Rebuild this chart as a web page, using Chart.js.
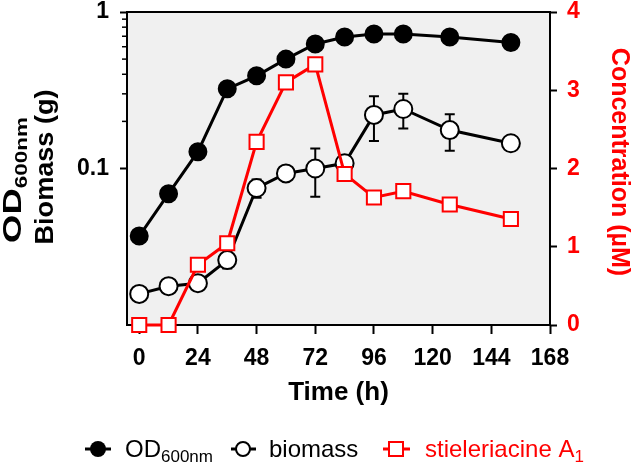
<!DOCTYPE html>
<html lang="en">
<head>
<meta charset="UTF-8">
<title>Crescimento e stieleriacine</title>
<script src="https://cdn.jsdelivr.net/npm/chart.js@4.4.1/dist/chart.umd.min.js"></script>
<style>
  html, body { margin: 0; padding: 0; background: #fff; }
  #wrap { width: 633px; height: 466px; }
</style>
</head>
<body>
<div id="wrap"><canvas id="grafico" width="633" height="466"></canvas></div>
<script>
// dados
const tempo = [0, 12, 24, 36, 48, 60, 72, 84, 96, 108, 127, 152];
const od600 = [0.037, 0.069, 0.128, 0.323, 0.391, 0.50, 0.625, 0.693, 0.724, 0.724, 0.693, 0.638];
const biomassa = [0.0158, 0.0177, 0.0185, 0.026, 0.075, 0.093, 0.100, 0.108, 0.22, 0.24, 0.176, 0.145];
const biomassaDP = [0, 0, 0, 0.003, 0.01, 0, 0.034, 0, 0.07, 0.06, 0.046, 0];
const stieleriacine = [0, 0, 0.77, 1.045, 2.34, 3.10, 3.33, 1.93, 1.63, 1.71, 1.54, 1.355];

const ticksX = [0, 24, 48, 72, 96, 120, 144, 168];
const ticksLog = [0.1, 1];
const ticksLogMenores = [0.2, 0.3, 0.4, 0.5, 0.6, 0.7, 0.8, 0.9];
const ticksConc = [0, 1, 2, 3, 4];

const fonte = "'Liberation Sans', Arial, sans-serif";
const vermelho = '#ff0000';

function pontos(ys) {
    return tempo.map((t, i) => ({ x: t, y: ys[i] }));
}

// texto com subscrito, a partir de x (alinhado à esquerda)
function textoSub(ctx, x, y, base, sub, tam, tamSub, peso, desce) {
    ctx.font = `${peso} ${tam}px ${fonte}`;
    ctx.fillText(base, x, y);
    const w = ctx.measureText(base).width;
    ctx.font = `${peso} ${tamSub}px ${fonte}`;
    ctx.fillText(sub, x + w, y + desce);
    return w + ctx.measureText(sub).width;
}

function larguraSub(ctx, base, sub, tam, tamSub, peso) {
    ctx.font = `${peso} ${tam}px ${fonte}`;
    const w = ctx.measureText(base).width;
    ctx.font = `${peso} ${tamSub}px ${fonte}`;
    return w + ctx.measureText(sub).width;
}

const extras = {
    id: 'extras',
    beforeDraw(chart) {
        const { ctx, chartArea: a } = chart;
        ctx.save();
        ctx.fillStyle = '#f0f0f0';
        ctx.fillRect(a.left, a.top, a.right - a.left, a.bottom - a.top);
        ctx.restore();
    },
    beforeDatasetsDraw(chart) {
        const { ctx, scales } = chart;
        ctx.save();
        ctx.strokeStyle = '#000';
        ctx.lineWidth = 2;
        tempo.forEach((t, i) => {
            const dp = biomassaDP[i];
            if (!dp) return;
            const x = scales.x.getPixelForValue(t);
            const y1 = scales.y.getPixelForValue(biomassa[i] + dp);
            const y2 = scales.y.getPixelForValue(biomassa[i] - dp);
            ctx.beginPath();
            ctx.moveTo(x, y1); ctx.lineTo(x, y2);
            ctx.moveTo(x - 5, y1); ctx.lineTo(x + 5, y1);
            ctx.moveTo(x - 5, y2); ctx.lineTo(x + 5, y2);
            ctx.stroke();
        });
        ctx.restore();
    },
    afterDraw(chart) {
        const { ctx, chartArea: a, scales } = chart;
        ctx.save();

        // borda de cima
        ctx.strokeStyle = '#000';
        ctx.lineWidth = 2;
        ctx.beginPath();
        ctx.moveTo(a.left - 1, a.top);
        ctx.lineTo(a.right + 1, a.top);
        ctx.stroke();

        // ticks menores do eixo log
        ctx.lineWidth = 1.5;
        ticksLogMenores.forEach(v => {
            const y = scales.y.getPixelForValue(v);
            ctx.beginPath();
            ctx.moveTo(a.left - 5, y);
            ctx.lineTo(a.left, y);
            ctx.stroke();
        });

        // título do eixo x
        ctx.fillStyle = '#000';
        ctx.font = `bold 26px ${fonte}`;
        ctx.textAlign = 'center';
        ctx.textBaseline = 'middle';
        ctx.fillText('Time (h)', (a.left + a.right) / 2, 393);

        // título do eixo esquerdo (duas linhas giradas)
        ctx.textAlign = 'left';
        ctx.textBaseline = 'alphabetic';
        ctx.save();
        ctx.translate(21, 180);
        ctx.rotate(-Math.PI / 2);
        let w = larguraSub(ctx, 'OD', '600nm', 26, 16, 'bold');
        ctx.scale(126 / w, 1);
        textoSub(ctx, -w / 2, 0, 'OD', '600nm', 26, 16, 'bold', 6);
        ctx.restore();

        ctx.save();
        ctx.translate(53, 167);
        ctx.rotate(-Math.PI / 2);
        ctx.font = `bold 25px ${fonte}`;
        w = ctx.measureText('Biomass (g)').width;
        ctx.scale(155 / w, 1);
        ctx.fillText('Biomass (g)', -w / 2, 0);
        ctx.restore();

        // título do eixo direito
        ctx.save();
        ctx.translate(619, 162);
        ctx.rotate(Math.PI / 2);
        ctx.fillStyle = vermelho;
        ctx.font = `bold 25px ${fonte}`;
        ctx.textAlign = 'center';
        ctx.textBaseline = 'middle';
        ctx.fillText('Concentration (\u00b5M)', 0, 0);
        ctx.restore();

        // legenda
        const yl = 449;
        ctx.lineWidth = 3;
        // OD
        ctx.strokeStyle = '#000';
        ctx.beginPath(); ctx.moveTo(85, yl); ctx.lineTo(111, yl); ctx.stroke();
        ctx.fillStyle = '#000';
        ctx.beginPath(); ctx.arc(98, yl, 8, 0, Math.PI * 2); ctx.fill();
        ctx.textBaseline = 'alphabetic';
        ctx.textAlign = 'left';
        textoSub(ctx, 125, 457, 'OD', '600nm', 24, 17, 'normal', 5);
        // biomassa
        ctx.beginPath(); ctx.moveTo(231, yl); ctx.lineTo(256, yl); ctx.stroke();
        ctx.fillStyle = '#fff';
        ctx.lineWidth = 2;
        ctx.beginPath(); ctx.arc(243, yl, 7, 0, Math.PI * 2); ctx.fill(); ctx.stroke();
        ctx.fillStyle = '#000';
        ctx.font = `24px ${fonte}`;
        ctx.fillText('biomass', 269, 457);
        // stieleriacine
        ctx.strokeStyle = vermelho;
        ctx.lineWidth = 3;
        ctx.beginPath(); ctx.moveTo(383, yl); ctx.lineTo(410, yl); ctx.stroke();
        ctx.fillStyle = '#fff';
        ctx.lineWidth = 2;
        ctx.fillRect(389, yl - 7, 14, 14);
        ctx.strokeRect(389, yl - 7, 14, 14);
        ctx.fillStyle = vermelho;
        textoSub(ctx, 425, 457, 'stieleriacine A', '1', 24, 17, 'normal', 5);

        ctx.restore();
    }
};

new Chart(document.getElementById('grafico'), {
    type: 'line',
    data: {
        datasets: [
            {
                label: 'stieleriacine A1',
                data: pontos(stieleriacine),
                yAxisID: 'y2',
                order: 0,
                clip: false,
                borderColor: vermelho,
                borderWidth: 3,
                pointStyle: 'rect',
                pointRadius: 10,
                pointBorderWidth: 2,
                pointBackgroundColor: '#fff',
                pointBorderColor: vermelho,
                tension: 0
            },
            {
                label: 'biomass',
                data: pontos(biomassa),
                yAxisID: 'y',
                order: 1,
                clip: false,
                borderColor: '#000',
                borderWidth: 3,
                pointRadius: 9,
                pointBorderWidth: 2,
                pointBackgroundColor: '#fff',
                pointBorderColor: '#000',
                tension: 0
            },
            {
                label: 'OD600nm',
                data: pontos(od600),
                yAxisID: 'y',
                order: 2,
                clip: false,
                borderColor: '#000',
                borderWidth: 3,
                pointRadius: 8.5,
                pointBorderWidth: 2,
                pointBackgroundColor: '#000',
                pointBorderColor: '#000',
                tension: 0
            }
        ]
    },
    options: {
        responsive: false,
        animation: false,
        layout: { padding: { top: 10, left: 0, right: 0, bottom: 0 } },
        plugins: {
            legend: { display: false },
            tooltip: { enabled: false }
        },
        scales: {
            x: {
                type: 'linear',
                min: -5,
                max: 168,
                afterBuildTicks: s => { s.ticks = ticksX.map(v => ({ value: v })); },
                afterFit: s => { s.height = 141; s.paddingLeft = 0; s.paddingRight = 0; },
                grid: { drawOnChartArea: false, tickLength: 9, tickWidth: 2, tickColor: '#000' },
                border: { display: true, width: 2, color: '#000' },
                ticks: {
                    color: '#000',
                    padding: 11,
                    maxRotation: 0,
                    autoSkip: false,
                    font: { family: fonte, size: 23, weight: 'bold' }
                }
            },
            y: {
                type: 'logarithmic',
                position: 'left',
                min: 0.01,
                max: 1,
                afterBuildTicks: s => { s.ticks = ticksLog.map(v => ({ value: v })); },
                afterFit: s => { s.width = 127; s.paddingTop = 0; s.paddingBottom = 0; },
                grid: { drawOnChartArea: false, tickLength: 7, tickWidth: 2, tickColor: '#000' },
                border: { display: true, width: 2, color: '#000' },
                ticks: {
                    color: '#000',
                    padding: 11,
                    autoSkip: false,
                    font: { family: fonte, size: 23, weight: 'bold' },
                    callback: v => String(v)
                }
            },
            y2: {
                type: 'linear',
                position: 'right',
                min: 0,
                max: 4,
                afterBuildTicks: s => { s.ticks = ticksConc.map(v => ({ value: v })); },
                afterFit: s => { s.width = 83; s.paddingTop = 0; s.paddingBottom = 0; },
                grid: { drawOnChartArea: false, tickLength: 7, tickWidth: 2, tickColor: '#000' },
                border: { display: true, width: 2, color: '#000' },
                ticks: {
                    color: vermelho,
                    padding: 10,
                    autoSkip: false,
                    font: { family: fonte, size: 23, weight: 'bold' }
                }
            }
        }
    },
    plugins: [extras]
});
</script>
</body>
</html>
